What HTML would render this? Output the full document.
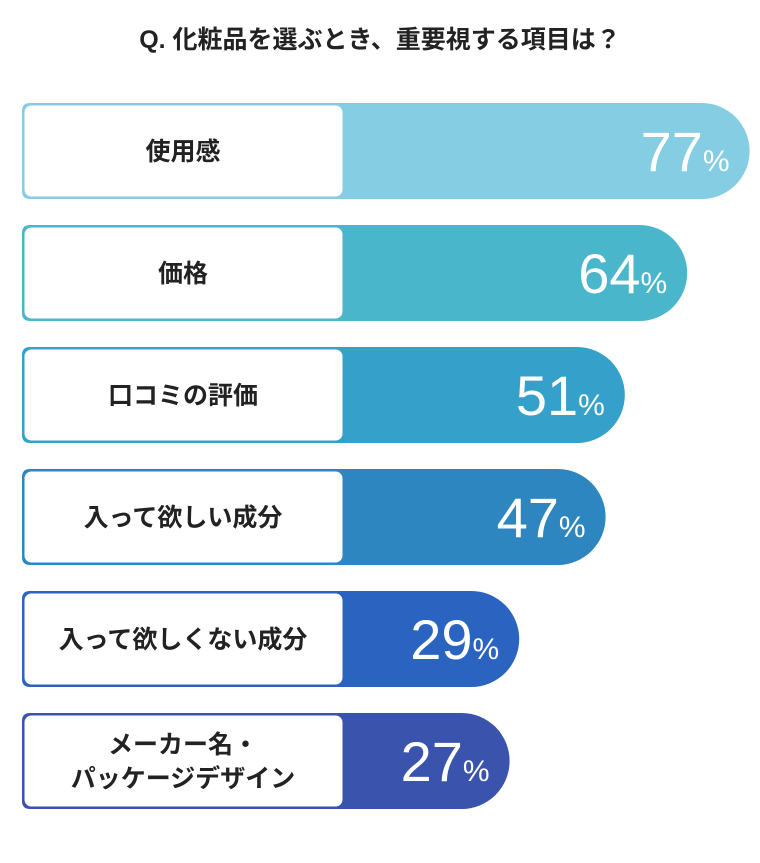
<!DOCTYPE html>
<html><head><meta charset="utf-8"><style>
body{margin:0;background:#fff;width:760px;height:858px;overflow:hidden;font-family:"Liberation Sans","Noto Sans CJK JP",sans-serif}
</style></head><body>
<svg width="760" height="858">
<text x="380" y="48" text-anchor="middle" font-size="25" font-weight="bold" fill="#222" font-family="Liberation Sans, Noto Sans CJK JP, sans-serif">Q. 化粧品を選ぶとき、重要視する項目は？</text>
<g id="bars"></g>
</svg>
<script>
const categories=["使用感","価格","口コミの評価","入って欲しい成分","入って欲しくない成分","メーカー名・\nパッケージデザイン"];
const values=[77,64,51,47,29,27];
const colors=["#84cde3","#4ab6cc","#35a0c9","#2d86bf","#2a63c0","#3a53ad"];
const NS="http://www.w3.org/2000/svg";
const g=document.getElementById("bars");
function xScale(v){return 380+v*4.8;}
function yRow(i){return 103+i*122;}
const H=96;
function mk(t,a){const e=document.createElementNS(NS,t);for(const k in a)e.setAttribute(k,a[k]);return e;}
categories.forEach((c,i)=>{
 const y=yRow(i),x0=22,x1=xScale(values[i]),r=H/2,col=colors[i];
 const p=mk("path",{d:`M${x0+8},${y}H${x1-r}A${r},${r} 0 0 1 ${x1-r},${y+H}H${x0+8}Q${x0},${y+H} ${x0},${y+H-8}V${y+8}Q${x0},${y} ${x0+8},${y}Z`,fill:col});
 
 
 g.appendChild(p);
 const b=mk("rect",{x:x0+1.5,y:y+1.5,width:320,height:H-3,rx:8,fill:"#fff",stroke:col,"stroke-width":2});
 
 
 g.appendChild(b);
 const lines=c.split("\n");
 lines.forEach((ln,j)=>{
  const t=mk("text",{x:x0+161,y:y+H/2+9+(j-(lines.length-1)/2)*34,"text-anchor":"middle","font-size":"25","font-weight":"bold",fill:"#222"});
  t.textContent=ln;
  
  
  g.appendChild(t);
 });
 const v=mk("text",{x:x1-20,y:y+H/2+20,"text-anchor":"end",fill:"#fff"});
 
 
 const n=mk("tspan",{"font-size":"56"});n.textContent=values[i];
 const pc=mk("tspan",{"font-size":"30"});pc.textContent="%";
 v.appendChild(n);v.appendChild(pc);g.appendChild(v);
});
</script>
</body></html>
